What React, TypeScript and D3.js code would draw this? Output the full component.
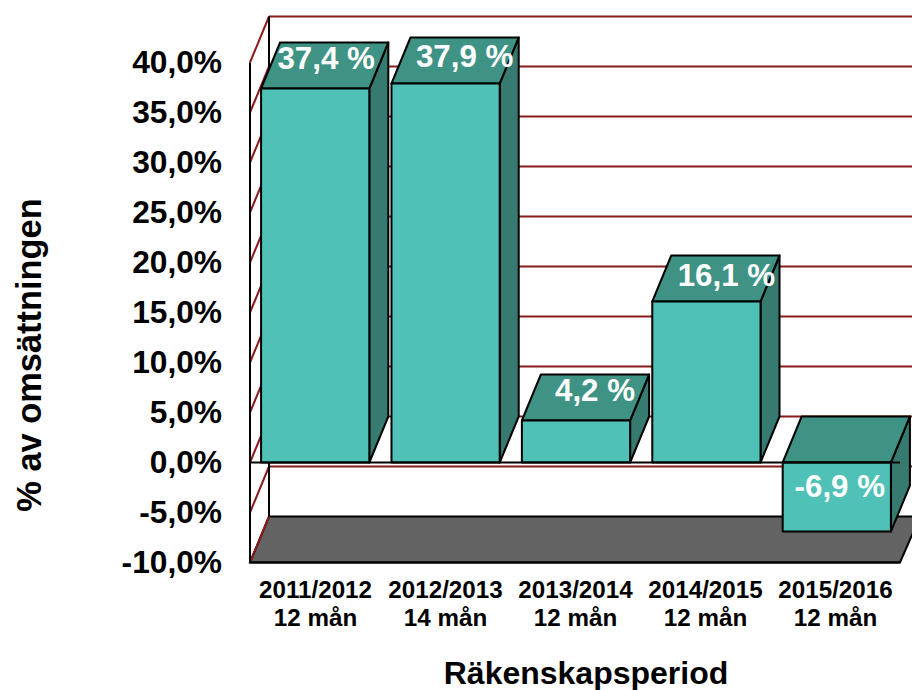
import React from "react";
import * as d3 from "d3";

const periods = ["2011/2012", "2012/2013", "2013/2014", "2014/2015", "2015/2016"];
const months = ["12 mån", "14 mån", "12 mån", "12 mån", "12 mån"];
const values = [37.4, 37.9, 4.2, 16.1, -6.9];
const valueLabels = ["37,4 %", "37,9 %", "4,2 %", "16,1 %", "-6,9 %"];
const ticks = [40, 35, 30, 25, 20, 15, 10, 5, 0, -5, -10];
const tickLabels = ["40,0%", "35,0%", "30,0%", "25,0%", "20,0%", "15,0%", "10,0%", "5,0%", "0,0%", "-5,0%", "-10,0%"];
const yTitle = "% av omsättningen";
const xTitle = "Räkenskapsperiod";

const FONT = "'Liberation Sans', Arial, sans-serif";
const FRONT = "#4fc1b6";
const TOP = "#3f9385";
const SIDE = "#367a70";
const FLOOR = "#636363";
const RED = "#8b1a1a";
const INK = "#000";
const DX = 19;
const DY = 46;
// label placement relative to bar centre / bar top
const nudgeX = [11, 19, 19, 20, 3];
const nudgeY = [-19.5, -17, -19.5, -16, -1];

const y = d3.scaleLinear().domain([-10, 40]).range([562.5, 62.5]);
const x = d3.scaleBand<number>().domain(d3.range(periods.length)).range([250, 902]).paddingInner(0.17).paddingOuter(0.085);
const xLabel = d3.scaleBand<number>().domain(d3.range(periods.length)).range([250.5, 900.5]);
const pts = (p: number[][]) => p.map((q) => q.join(",")).join(" ");

export default function App() {
  const y0 = y(0);
  const bw = x.bandwidth();
  return (
    <svg width={912} height={690} viewBox="0 0 912 690" style={{ position: "absolute", left: 0, top: 0, background: "#fff" }} fontFamily={FONT} fontWeight="bold">
      <polygon points={pts([[250, y(-10)], [250 + DX, y(-10) - DY], [920, y(-10) - DY], [900, y(-10)]])} fill={FLOOR} stroke={INK} strokeWidth={2} />
      {ticks.slice(0, -1).map((t) => (
        <line key={"g" + t} x1={250 + DX} x2={912} y1={y(t) - DY} y2={y(t) - DY} stroke={RED} strokeWidth={2} />
      ))}
      {ticks.map((t) => (
        <line key={"w" + t} x1={250} x2={250 + DX} y1={y(t)} y2={y(t) - DY} stroke={RED} strokeWidth={2} />
      ))}
      <line x1={250} x2={250} y1={y(40)} y2={y(-10)} stroke={INK} strokeWidth={2} />
      <line x1={250 + DX} x2={250 + DX} y1={y(40) - DY} y2={y(-10) - DY} stroke={INK} strokeWidth={2} />
      {values.map((v, i) => {
        const l = x(i)!;
        const r = l + bw;
        const yt = y(Math.max(v, 0));
        const yb = y(Math.min(v, 0));
        return (
          <g key={i} stroke={INK} strokeWidth={2} strokeLinejoin="round">
            <polygon points={pts([[r, yt], [r + DX, yt - DY], [r + DX, yb - DY], [r, yb]])} fill={SIDE} />
            <polygon points={pts([[l, yt], [l + DX, yt - DY], [r + DX, yt - DY], [r, yt]])} fill={TOP} />
            <rect x={l} y={yt} width={bw} height={yb - yt} fill={FRONT} />
          </g>
        );
      })}
      <line x1={250} x2={900} y1={y0} y2={y0} stroke={INK} strokeWidth={2} />
      <line x1={250} x2={900} y1={y(-10)} y2={y(-10)} stroke={INK} strokeWidth={2} />
      {values.map((v, i) => {
        const cx = x(i)! + bw / 2;
        const ty = v >= 0 ? y(v) : y(v / 2) + 1;
        return (
          <text key={i} x={cx + nudgeX[i]} y={ty + nudgeY[i]} textAnchor="middle" fontSize={31.3} fill="#fff">
            {valueLabels[i]}
          </text>
        );
      })}
      {ticks.map((t, i) => (
        <text key={t} x={222} y={y(t) + 10.5} textAnchor="end" fontSize={31.7}>{tickLabels[i]}</text>
      ))}
      {periods.map((p, i) => {
        const cx = xLabel(i)! + xLabel.bandwidth() / 2;
        return (
          <g key={p} textAnchor="middle" fontSize={24.2}>
            <text x={cx} y={598}>{p}</text>
            <text x={cx} y={626}>{months[i]}</text>
          </g>
        );
      })}
      <text x={586} y={684} textAnchor="middle" fontSize={32}>{xTitle}</text>
      <text transform="translate(41,355) rotate(-90)" textAnchor="middle" fontSize={34.4}>{yTitle}</text>
    </svg>
  );
}
